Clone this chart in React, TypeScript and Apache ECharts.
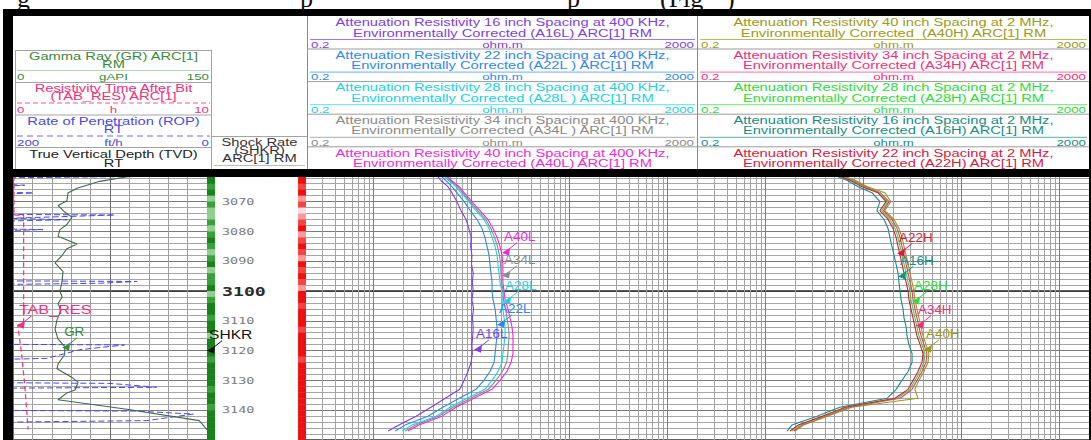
import React, { useEffect, useRef } from "react";
import * as echarts from "echarts";

// ---------- DATA ----------
// depth samples (ft) for the resistivity curves
const DEPTHS = [3061, 3063, 3065, 3067, 3070, 3073, 3076, 3079, 3082, 3085, 3088, 3091, 3094, 3097, 3100, 3103, 3106, 3109, 3112, 3115, 3118, 3121, 3124, 3127, 3130, 3133, 3136, 3139, 3142, 3145, 3147];

// 400 kHz attenuation resistivities (ohm.m)
const A16L = [4.35, 4.9, 5.75, 6.3, 7.1, 7.8, 8.8, 9.4, 9.9, 9.8, 10.1, 10.0, 10.4, 10.2, 10.4, 10.1, 10.5, 10.2, 10.4, 10.3, 10.1, 10.2, 9.9, 9.2, 8.4, 7.6, 5.4, 3.86, 2.72, 1.82, 1.41];
const A22L = [4.77, 5.5, 6.3, 7.1, 8.4, 9.7, 11.4, 12.8, 13.7, 14.4, 15.1, 15.4, 15.8, 16.2, 16.2, 16.6, 17.4, 17.8, 18.2, 18.2, 17.8, 17.4, 17.0, 15.4, 13.4, 11.1, 7.5, 5.1, 3.6, 2.1, 1.66];
const A28L = [5.12, 5.9, 6.95, 7.8, 9.4, 11.1, 13.4, 15.1, 16.2, 17.4, 18.2, 18.6, 19.1, 19.5, 20.5, 20.5, 20.9, 21.5, 22.0, 22.0, 21.5, 20.9, 20.5, 18.6, 16.2, 13.7, 9.0, 6.04, 4.35, 2.47, 1.95];
const A34L = [5.3, 6.1, 7.2, 8.1, 9.7, 11.6, 14.0, 15.8, 17.2, 18.4, 19.3, 19.8, 20.0, 20.2, 21.0, 21.2, 22.2, 23.0, 23.8, 24.2, 23.8, 23.5, 22.8, 20.7, 17.8, 14.9, 9.8, 6.5, 4.6, 2.7, 2.1];
const A40L = [5.5, 6.3, 7.5, 8.4, 10.1, 12.2, 14.7, 16.6, 18.2, 19.5, 20.5, 20.9, 20.9, 20.9, 21.5, 22.0, 23.6, 24.7, 25.9, 26.5, 26.5, 26.5, 25.3, 23.0, 19.5, 16.2, 10.6, 6.95, 5.0, 2.91, 2.25];

// 2 MHz attenuation resistivities (ohm.m)
const A16H = [4.9, 6.95, 8.8, 12.2, 14.7, 13.7, 16.2, 17.8, 18.6, 19.5, 20.5, 21.5, 22.5, 23.0, 23.6, 24.2, 25.3, 25.9, 27.2, 27.8, 29.1, 31.3, 31.3, 28.5, 24.7, 21.5, 17.4, 5.75, 3.35, 1.86, 1.66];
const A22H = [5.24, 7.45, 9.65, 14.0, 17.0, 14.7, 17.8, 20.0, 21.5, 22.5, 23.6, 24.7, 25.9, 27.2, 28.5, 29.1, 30.5, 32.0, 33.5, 35.1, 37.8, 40.5, 39.5, 36.0, 32.0, 28.5, 20.9, 6.5, 3.78, 2.15, 1.78];
const A28H = [5.5, 7.8, 10.1, 14.5, 17.6, 15.4, 18.6, 21.0, 22.5, 23.6, 24.7, 25.9, 27.2, 28.5, 29.8, 30.5, 32.0, 33.5, 35.1, 36.8, 39.5, 42.4, 41.4, 37.8, 33.5, 29.8, 22.0, 6.8, 3.95, 2.25, 1.86];
const A34H = [5.6, 8.0, 10.5, 14.8, 18.2, 16.0, 19.5, 22.0, 23.6, 24.7, 25.9, 27.2, 28.5, 29.8, 31.3, 32.0, 33.5, 35.1, 36.8, 38.6, 41.4, 44.4, 43.4, 39.5, 35.1, 31.3, 23.6, 7.2, 4.1, 2.35, 1.95];
const A40H = [5.8, 8.4, 11.0, 16.5, 19.0, 16.5, 20.5, 23.0, 24.7, 25.9, 27.2, 28.5, 29.8, 31.3, 32.8, 33.5, 35.1, 36.8, 38.6, 40.5, 43.4, 46.5, 45.5, 41.4, 36.8, 33.5, 36.0, 7.6, 4.3, 2.45, 2.0];

// Gamma ray (gAPI)
const GR_DEPTHS = [3061.3, 3063.2, 3065.5, 3067.1, 3069.7, 3071.3, 3073.5, 3075.2, 3077.7, 3079.4, 3081.6, 3084.2, 3085.8, 3088.1, 3090.6, 3093.5, 3096.8, 3100, 3102, 3104.2, 3106.5, 3109.7, 3112.9, 3116.1, 3118.7, 3121.3, 3124.5, 3126.1, 3129, 3130.6, 3133.2, 3134.2, 3136.5, 3139.7, 3143.5, 3146.5];
const GR = [93, 67, 49.5, 42.5, 41.7, 34.8, 40, 45.6, 41.7, 36.3, 34.8, 49.5, 41.7, 37.9, 32.5, 38.7, 37.9, 36.3, 38, 34.8, 37, 34, 32.5, 34.8, 40, 40, 34.8, 34, 45.6, 50.3, 48, 41.7, 34.8, 88, 144, 150];

// Resistivity time after bit (h)
const TAB_DEPTHS = [3061.3, 3074.5, 3074.6, 3110.5, 3111.5, 3122, 3132.6, 3146.5];
const TAB_RES = [0.05, 0.05, 0.55, 0.55, 0.25, 0.46, 0.62, 0.78];

// Rate of penetration (ft/h)
const ROP_DEPTHS = [3061.3, 3061.6, 3062.0, 3064.3, 3064.5, 3064.8, 3066.9, 3067.1, 3067.4, 3074.3, 3074.5, 3075.6, 3076.1, 3076.5, 3079.2, 3079.4, 3079.7, 3096.6, 3096.8, 3097.4, 3097.8, 3117.9, 3118.1, 3119.7, 3122.6, 3122.9, 3130.8, 3131.0, 3132.3, 3132.6, 3140.1, 3140.3, 3141.3, 3143.5, 3144.0, 3146.5];
const ROP = [150, 76, 205, 205, 188, 205, 205, 179, 205, 205, 95, 205, 144, 205, 205, 169, 205, 205, 72, 110, 205, 205, 85, 131, 165, 205, 205, 100, 52, 205, 205, 73, 14, 62, 205, 205];

// depth-track colour strips (shock rate SHKR and red strip), 2 ft cells
const BAND_DEPTHS = [3060, 3062, 3064, 3066, 3068, 3070, 3072, 3074, 3076, 3078, 3080, 3082, 3084, 3086, 3088, 3090, 3092, 3094, 3096, 3098, 3100, 3102, 3104, 3106, 3108, 3110, 3112, 3114, 3116, 3118, 3120, 3122, 3124, 3126, 3128, 3130, 3132, 3134, 3136, 3138, 3140, 3142, 3144, 3146, 3148];
const SHKR_BAND = [3, 3, 2, 3, 1, 2, 1, 1, 2, 1, 2, 3, 2, 1, 2, 3, 1, 2, 2, 3, 1, 2, 3, 3, 2, 3, 3, 1, 3, 3, 3, 2, 3, 3, 3, 3, 2, 3, 3, 2, 3, 3, 3, 3, 3];
const RED_BAND = [3, 3, 2, 3, 1, 2, 0, 1, 2, 3, 1, 2, 3, 2, 1, 3, 2, 3, 2, 1, 3, 3, 2, 3, 3, 3, 2, 3, 3, 3, 3, 2, 3, 3, 3, 3, 3, 3, 3, 3, 3, 3, 3, 3, 3];

const DEPTH_TICKS = [3070, 3080, 3090, 3100, 3110, 3120, 3130, 3140];

// curve-name flags (arrow tip at value/depth)
const T3_LABEL_NAMES = ["A40L", "A34L", "A28L", "A22L", "A16L"];
const T3_LABEL_VALUES = [20.5, 20.5, 21.0, 18.2, 10.6];
const T3_LABEL_DEPTHS = [3086.8, 3094.5, 3103.2, 3111.0, 3119.4];
const T4_LABEL_NAMES = ["A22H", "A16H", "A28H", "A34H", "A40H"];
const T4_LABEL_VALUES = [22.0, 22.5, 31.3, 34.3, 41.4];
const T4_LABEL_DEPTHS = [3087.1, 3094.8, 3103.2, 3111.3, 3119.4];
const GR_LABEL = { name: "GR", value: 38, depth: 3118.7 };
const TAB_LABEL = { name: "TAB_RES", value: 0.2, depth: 3111.3 };
const SHKR_LABEL = { name: "SHKR", value: 0, depth: 3119.7 };

// header texts
const T3_HEADERS = [
  ["A16L", "Attenuation Resistivity 16 inch Spacing at 400 KHz,", "Environmentally Corrected (A16L) ARC[1] RM"],
  ["A22L", "Attenuation Resistivity 22 inch Spacing at 400 KHz,", "Environmentally Corrected (A22L ) ARC[1] RM"],
  ["A28L", "Attenuation Resistivity 28 inch Spacing at 400 KHz,", "Environmentally Corrected (A28L ) ARC[1] RM"],
  ["A34L", "Attenuation Resistivity 34 inch Spacing at 400 KHz,", "Environmentally Corrected (A34L ) ARC[1] RM"],
  ["A40L", "Attenuation Resistivity 40 inch Spacing at 400 KHz,", "Environmentally Corrected (A40L) ARC[1] RM"],
];
const T4_HEADERS = [
  ["A40H", "Attenuation Resistivity 40 inch Spacing at 2 MHz,", "Environmentally Corrected  (A40H) ARC[1] RM"],
  ["A34H", "Attenuation Resistivity 34 inch Spacing at 2 MHz,", "Environmentally Corrected (A34H) ARC[1] RM"],
  ["A28H", "Attenuation Resistivity 28 inch Spacing at 2 MHz,", "Environmentally Corrected (A28H) ARC[1] RM"],
  ["A16H", "Attenuation Resistivity 16 inch Spacing at 2 MHz,", "Environmentally Corrected (A16H) ARC[1] RM"],
  ["A22H", "Attenuation Resistivity 22 inch Spacing at 2 MHz,", "Environmentally Corrected (A22H) ARC[1] RM"],
];

// ---------- STYLE ----------
const COLORS: Record<string, string> = {
  A16L: "#7b3fe4", A22L: "#2f86ee", A28L: "#19d2e4", A34L: "#8a8a8a", A40L: "#f02ad8",
  A16H: "#1a8c84", A22H: "#d9183f", A28H: "#2edc3a", A34H: "#f0307a", A40H: "#9a9a1a",
  GR: "#3a8a3a", TAB_RES: "#f0307a", ROP: "#4848e6", SHKR: "#111111",
};
const GREEN_SHADES = ["#d9f0d9", "#8fd08f", "#3aa03a", "#17821a"];
const RED_SHADES = ["#fde0e0", "#f89a9a", "#f34545", "#ee1010"];
const SANS = '"Liberation Sans", Arial, Helvetica, sans-serif';
const MONO = '"DejaVu Sans Mono", "Liberation Mono", monospace';
const TITLE_SX = 1.47;
const SCALE_SX = 1.4;

const DMIN = 3050, DMAX = 3150, GTOP = 142, GH = 310;

function txt(text: string, x: number, y: number, fill: string, o: any = {}) {
  return {
    type: "text", x, y, z: 110, silent: true, scaleX: o.sx ?? TITLE_SX,
    style: { text, fill, font: `${o.w ?? "normal"} ${o.size ?? 10}px ${o.family ?? SANS}`, align: o.align ?? "center", verticalAlign: o.va ?? "middle" },
  };
}
function ln(x1: number, y1: number, x2: number, y2: number, stroke = "#a3a3a3", lineWidth = 1, dash?: number[]) {
  const style: any = { stroke, lineWidth };
  if (dash) style.lineDash = dash;
  return { type: "line", z: 110, silent: true, shape: { x1, y1, x2, y2 }, style };
}
function rc(x: number, y: number, width: number, height: number, fill: string, z = 105) {
  return { type: "rect", z, silent: true, shape: { x, y, width, height }, style: { fill } };
}

function headerBlocks(list: string[][], x0: number, x1: number) {
  const els: any[] = [];
  const cx = (x0 + x1) / 2;
  list.forEach((h, k) => {
    const c = COLORS[h[0]];
    const top = 16 + 32.6 * k;
    els.push(txt(h[1], cx, top + 7, c));
    els.push(txt(h[2], cx, top + 17.5, c));
    if (k < 4) {
      els.push(ln(x0 + 2, top + 23.5, x1 - 2, top + 23.5, c, 0.7));
      els.push(txt("0.2", x0 + 3, top + 28.5, c, { align: "left", size: 9.5, sx: SCALE_SX }));
      els.push(txt("ohm.m", cx, top + 28.5, c, { size: 9.5, sx: SCALE_SX }));
      els.push(txt("2000", x1 - 3, top + 28.5, c, { align: "right", size: 9.5, sx: SCALE_SX }));
      els.push(ln(x0, top + 33, x1, top + 33, "#9c9c9c", 1));
    }
  });
  return els;
}

function buildGraphic() {
  const g: any[] = [];
  // partial caption of the surrounding document, cut by the frame
  const cap: [string, number][] = [["g", 17], ["p", 300], ["p", 567], ["(Fig", 660], [")", 726]];
  cap.forEach(([t, x]) => g.push({ type: "text", x, y: 11, z: 104, silent: true, style: { text: t, fill: "#111", font: '26px "Liberation Serif", serif', align: "left", verticalAlign: "bottom" } }));
  // black frame
  g.push(rc(3, 9, 1088, 168, "#000000", 105));
  g.push(rc(3, 177, 10, 263, "#000000", 105));
  g.push(rc(1089, 9, 2, 431, "#000000", 105));
  g.push(rc(13, 16, 1076, 153, "#ffffff", 106));
  // panel separators
  g.push(ln(15.5, 50, 15.5, 169));
  g.push(ln(211.5, 50, 211.5, 169));
  g.push(ln(307.5, 16, 307.5, 169, "#8c8c8c"));
  g.push(ln(697.5, 16, 697.5, 169, "#8c8c8c"));
  // track 1 header
  const cx = 113.5;
  const sc = { size: 9.5, sx: SCALE_SX };
  g.push(ln(15, 50.5, 212, 50.5));
  g.push(txt("Gamma Ray (GR) ARC[1]", cx, 57, COLORS.GR));
  g.push(txt("RM", cx, 65, COLORS.GR));
  g.push(ln(17, 70.5, 210, 70.5, "#9ccf9c", 0.8));
  g.push(txt("0", 17, 76.5, COLORS.GR, { ...sc, align: "left" }));
  g.push(txt("gAPI", cx, 76.5, COLORS.GR, sc));
  g.push(txt("150", 209, 76.5, COLORS.GR, { ...sc, align: "right" }));
  g.push(ln(15, 82.5, 212, 82.5));
  g.push(txt("Resistivity Time After Bit", cx, 88.5, COLORS.TAB_RES));
  g.push(txt("(TAB_RES) ARC[1]", cx, 97, COLORS.TAB_RES));
  g.push(ln(17, 103, 210, 103, COLORS.TAB_RES, 0.8, [5, 3]));
  g.push(txt("0", 17, 109.5, COLORS.TAB_RES, { ...sc, align: "left" }));
  g.push(txt("h", cx, 109.5, COLORS.TAB_RES, sc));
  g.push(txt("10", 209, 109.5, COLORS.TAB_RES, { ...sc, align: "right" }));
  g.push(ln(15, 115, 212, 115));
  g.push(txt("Rate of Penetration (ROP)", cx, 121.5, COLORS.ROP));
  g.push(txt("RT", cx, 130, COLORS.ROP));
  g.push(ln(17, 136, 210, 136, COLORS.ROP, 0.8, [6, 4]));
  g.push(txt("200", 17, 142.5, COLORS.ROP, { ...sc, align: "left" }));
  g.push(txt("ft/h", cx, 142.5, COLORS.ROP, sc));
  g.push(txt("0", 209, 142.5, COLORS.ROP, { ...sc, align: "right" }));
  g.push(ln(15, 147.5, 212, 147.5));
  g.push(txt("True Vertical Depth (TVD)", cx, 155, "#222222"));
  g.push(txt("RT", cx, 163.5, "#222222"));
  // depth track header
  g.push(ln(212, 136.5, 307, 136.5));
  g.push(txt("Shock Rate", 259.5, 143, "#333333"));
  g.push(txt("(SHKR)", 259.5, 151, "#333333"));
  g.push(txt("ARC[1] RM", 259.5, 159, "#333333"));
  g.push(ln(214, 165.5, 305, 165.5, "#bdbdbd"));
  // resistivity headers
  g.push(...headerBlocks(T3_HEADERS, 308, 697));
  g.push(...headerBlocks(T4_HEADERS, 698, 1089));
  return g;
}

// ---------- SERIES HELPERS ----------
function curve(name: string, vals: number[], depths: number[], xi: number, yi: number, extra: any = {}) {
  return {
    type: "line", name, xAxisIndex: xi, yAxisIndex: yi, z: 10, silent: true,
    showSymbol: false, symbol: "none",
    data: vals.map((v, i) => [v, depths[i]]),
    lineStyle: { color: COLORS[name], width: 1.1, ...extra },
  };
}

function flags(names: string[], values: number[], depths: number[], xi: number, yi: number, sx = 1.12) {
  return {
    type: "custom", xAxisIndex: xi, yAxisIndex: yi, z: 20, silent: true, clip: false,
    encode: { x: 0, y: 1 },
    data: values.map((v, i) => [v, depths[i], i]),
    renderItem: (_p: any, api: any) => {
      const i = api.value(2);
      const pt = api.coord([api.value(0), api.value(1)]);
      const x = pt[0], y = pt[1];
      const c = COLORS[names[i]];
      return {
        type: "group",
        children: [
          { type: "line", shape: { x1: x + 5, y1: y - 1, x2: x + 15, y2: y - 9 }, style: { stroke: c, lineWidth: 1 } },
          { type: "polygon", shape: { points: [[x, y + 1], [x + 8, y - 4], [x + 7, y + 4]] }, style: { fill: c } },
          { type: "text", x: x + 2, y: y - 15, scaleX: sx, style: { text: names[i], fill: c, font: `12px ${SANS}`, align: "left", verticalAlign: "middle" } },
        ],
      };
    },
  };
}

function logGridSeries(xi: number, yi: number) {
  const lines: number[][] = [];
  [0.1, 1, 10, 100, 1000].forEach((dec) => {
    for (let k = 1; k <= 9; k++) {
      const v = dec * k;
      if (v >= 0.2 - 1e-9 && v <= 2000 + 1e-9) lines.push([v, 3100, k === 1 ? 1 : 0]);
    }
  });
  lines.push([2000, 3100, 0]);
  return {
    type: "custom", xAxisIndex: xi, yAxisIndex: yi, z: 1, silent: true, clip: false,
    encode: { x: 0, y: 1 },
    data: lines,
    renderItem: (params: any, api: any) => {
      const cs = params.coordSys;
      const x = Math.round(api.coord([api.value(0), 3100])[0]) + 0.5;
      return {
        type: "line",
        shape: { x1: x, y1: cs.y, x2: x, y2: cs.y + cs.height },
        style: { stroke: api.value(2) ? "#7e7e7e" : "#a2a2a2", lineWidth: 1 },
      };
    },
  };
}

const yBase = { type: "value", min: DMIN, max: DMAX, inverse: true, axisLine: { show: false }, axisTick: { show: false }, axisLabel: { show: false } };
function yAxes(gridIndex: number) {
  return [
    { ...yBase, gridIndex, interval: 2, splitLine: { show: true, lineStyle: { color: "#a6a6a6", width: 1 } } },
    { ...yBase, gridIndex, interval: 10, splitLine: { show: true, lineStyle: { color: "#7a7a7a", width: 1 } } },
    { ...yBase, gridIndex, interval: 50, splitLine: { show: true, lineStyle: { color: "#2a2a2a", width: 1.6 } } },
  ];
}
const xHidden = { axisLine: { show: false }, axisTick: { show: false }, axisLabel: { show: false } };

function buildOption() {
  const series: any[] = [];
  series.push(logGridSeries(4, 4));
  series.push(logGridSeries(5, 7));

  // track 1
  series.push(curve("ROP", ROP, ROP_DEPTHS, 2, 0, { type: [6, 3], width: 1 }));
  series.push(curve("TAB_RES", TAB_RES, TAB_DEPTHS, 1, 0, { type: [5, 3], width: 1.2 }));
  series.push(curve("GR", GR, GR_DEPTHS, 0, 0, { color: "#3f6b47", width: 1.1 }));

  // track 3 (400 kHz)
  series.push(curve("A34L", A34L, DEPTHS, 4, 4));
  series.push(curve("A16L", A16L, DEPTHS, 4, 4));
  series.push(curve("A22L", A22L, DEPTHS, 4, 4));
  series.push(curve("A28L", A28L, DEPTHS, 4, 4));
  series.push(curve("A40L", A40L, DEPTHS, 4, 4));
  // track 4 (2 MHz)
  series.push(curve("A40H", A40H, DEPTHS, 5, 7));
  series.push(curve("A34H", A34H, DEPTHS, 5, 7));
  series.push(curve("A16H", A16H, DEPTHS, 5, 7));
  series.push(curve("A28H", A28H, DEPTHS, 5, 7));
  series.push(curve("A22H", A22H, DEPTHS, 5, 7));

  // depth track strips
  series.push({
    type: "custom", xAxisIndex: 3, yAxisIndex: 3, z: 5, silent: true, clip: false,
    encode: { x: 0, y: 1 },
    data: BAND_DEPTHS.map((d, i) => [0, d, SHKR_BAND[i], RED_BAND[i]]),
    renderItem: (_p: any, api: any) => {
      const d = api.value(1);
      const a = api.coord([0, d]);
      const b = api.coord([8.2, d + 2]);
      const r1 = api.coord([92.9, d]);
      const r2 = api.coord([101, d + 2]);
      return {
        type: "group",
        children: [
          { type: "rect", shape: { x: a[0], y: a[1], width: b[0] - a[0], height: b[1] - a[1] + 0.4 }, style: { fill: GREEN_SHADES[api.value(2)] } },
          { type: "rect", shape: { x: r1[0], y: r1[1], width: r2[0] - r1[0], height: r2[1] - r1[1] + 0.4 }, style: { fill: RED_SHADES[api.value(3)] } },
        ],
      };
    },
  });
  // depth labels
  series.push({
    type: "custom", xAxisIndex: 3, yAxisIndex: 3, z: 20, silent: true, clip: false,
    encode: { x: 0, y: 1 },
    data: DEPTH_TICKS.map((d) => [15.3, d]),
    renderItem: (_p: any, api: any) => {
      const d = api.value(1);
      const p = api.coord([api.value(0), d]);
      const major = d % 100 === 0;
      return {
        type: "text", x: p[0], y: p[1], scaleX: major ? 1.4 : 1.5,
        style: { text: String(d), fill: major ? "#2b2b2b" : "#7a7a7a", font: major ? `bold 13px ${MONO}` : `9px ${MONO}`, align: "left", verticalAlign: "middle" },
      };
    },
  });

  // flags
  series.push(flags(T3_LABEL_NAMES, T3_LABEL_VALUES, T3_LABEL_DEPTHS, 4, 4));
  series.push(flags(T4_LABEL_NAMES, T4_LABEL_VALUES, T4_LABEL_DEPTHS, 5, 7));
  series.push(flags([GR_LABEL.name], [GR_LABEL.value], [GR_LABEL.depth], 0, 0));
  series.push(flags([TAB_LABEL.name], [TAB_LABEL.value], [TAB_LABEL.depth], 1, 0, 1.35));
  series.push(flags([SHKR_LABEL.name], [SHKR_LABEL.value], [SHKR_LABEL.depth], 3, 3, 1.3));

  return {
    animation: false,
    backgroundColor: "#ffffff",
    grid: [
      { left: 13, top: GTOP, width: 194, height: GH },
      { left: 207, top: GTOP, width: 98, height: GH },
      { left: 305, top: GTOP, width: 392, height: GH },
      { left: 697, top: GTOP, width: 392, height: GH },
    ],
    xAxis: [
      { type: "value", gridIndex: 0, min: 0, max: 150, interval: 15, ...xHidden, splitLine: { show: true, lineStyle: { color: "#9e9e9e" } } },
      { type: "value", gridIndex: 0, min: 0, max: 10, interval: 5, ...xHidden, splitLine: { show: true, lineStyle: { color: "#6e6e6e" } } },
      { type: "value", gridIndex: 0, min: 0, max: 200, inverse: true, ...xHidden, splitLine: { show: false } },
      { type: "value", gridIndex: 1, min: 0, max: 100, ...xHidden, splitLine: { show: false } },
      { type: "log", gridIndex: 2, min: 0.2, max: 2000, logBase: 10, ...xHidden, splitLine: { show: false } },
      { type: "log", gridIndex: 3, min: 0.2, max: 2000, logBase: 10, ...xHidden, splitLine: { show: false } },
    ],
    yAxis: [
      ...yAxes(0),
      { ...yBase, gridIndex: 1, splitLine: { show: false } },
      ...yAxes(2),
      ...yAxes(3),
    ],
    series,
    graphic: { elements: buildGraphic() },
  };
}

export default function App() {
  const ref = useRef<HTMLDivElement>(null);
  useEffect(() => {
    if (!ref.current) return;
    const chart = echarts.init(ref.current, undefined, { renderer: "svg" });
    chart.setOption(buildOption() as any);
    return () => chart.dispose();
  }, []);
  return <div ref={ref} style={{ position: "absolute", left: 0, top: 0, width: 1091, height: 440, background: "#fff" }} />;
}
